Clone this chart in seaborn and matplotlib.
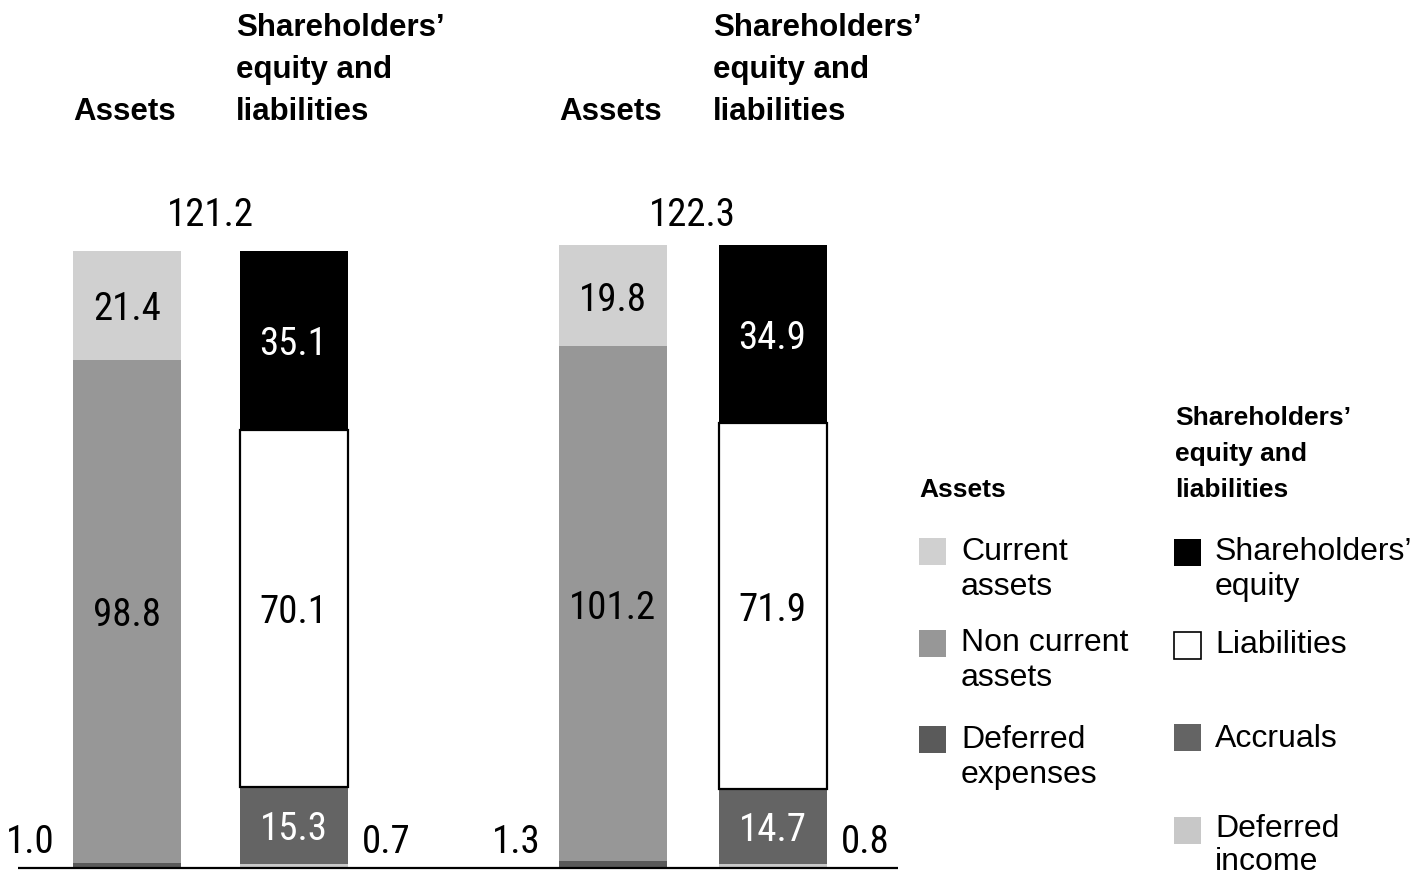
import matplotlib
matplotlib.use("Agg")
import matplotlib.pyplot as plt
from matplotlib import font_manager
from matplotlib.patches import Rectangle
import seaborn as sns

sns.set_theme(style="white")


def pick_font(*names):
    available = {f.name for f in font_manager.fontManager.ttflist}
    for name in names:
        if name in available:
            return name
    return "DejaVu Sans"


TEXT_FONT = pick_font("Liberation Sans", "Arimo", "DejaVu Sans")
NUM_FONT = pick_font("Liberation Sans Narrow", "Roboto Condensed", "Liberation Sans")
plt.rcParams["font.family"] = [TEXT_FONT, "DejaVu Sans"]

# ---- balance sheet figures (EUR bn), two reporting dates ----
current_assets = [21.4, 19.8]
non_current_assets = [98.8, 101.2]
deferred_expenses = [1.0, 1.3]
shareholders_equity = [35.1, 34.9]
liabilities = [70.1, 71.9]
accruals = [15.3, 14.7]
deferred_income = [0.7, 0.8]
balance_totals = [121.2, 122.3]

# ---- layout ----
W, H = 1428, 877
PX_PER_UNIT = 5.09
BASE_PX = 868
asset_x = [127, 612.5]
equity_x = [293.5, 772.5]
BAR_W = 108
TOTAL_Y = 129.0
SMALL_Y = 5.9
TEXT_DROP = 0.85  # nudge numeric labels so the digits sit visually centred

C_CURRENT = "#d0d0d0"
C_NONCURRENT = "#979797"
C_DEF_EXP = "#5a5a5a"
C_EQUITY = "#000000"
C_LIAB = "#ffffff"
C_ACCR = "#646464"
C_DEF_INC = "#c8c8c8"

fig = plt.figure(figsize=(W / 100, H / 100), dpi=100)
ax = fig.add_axes([0, 0, 1, 1])

asset_layers = [
    (deferred_expenses, C_DEF_EXP, "outside", None),
    (non_current_assets, C_NONCURRENT, "black", None),
    (current_assets, C_CURRENT, "black", None),
]
equity_layers = [
    (deferred_income, C_DEF_INC, "outside", None),
    (accruals, C_ACCR, "white", None),
    (liabilities, C_LIAB, "black", "black"),
    (shareholders_equity, C_EQUITY, "white", None),
]

num_kw = dict(family=[NUM_FONT, "DejaVu Sans"], fontsize=28)


def draw_stack(xpos, layers, i, side):
    bottom = 0.0
    for values, color, label_color, edge in layers:
        v = values[i]
        sns.barplot(
            x=[xpos], y=[v], native_scale=True, width=BAR_W, bottom=bottom,
            color=color, saturation=1, errorbar=None,
            edgecolor=edge if edge else color,
            linewidth=1.6 if edge else 0, ax=ax,
        )
        if label_color == "outside":
            if side == "left":
                ax.text(xpos - BAR_W / 2 - 18, SMALL_Y - TEXT_DROP, f"{v:.1f}",
                        ha="right", va="center", color="black", **num_kw)
            else:
                ax.text(xpos + BAR_W / 2 + 14, SMALL_Y - TEXT_DROP, f"{v:.1f}",
                        ha="left", va="center", color="black", **num_kw)
        else:
            ax.text(xpos, bottom + v / 2 - TEXT_DROP, f"{v:.1f}", ha="center",
                    va="center", color=label_color, **num_kw)
        bottom += v


for i in range(2):
    draw_stack(asset_x[i], asset_layers, i, "left")
    draw_stack(equity_x[i], equity_layers, i, "right")
    ax.text((asset_x[i] + equity_x[i]) / 2, TOTAL_Y - TEXT_DROP,
            f"{balance_totals[i]:.1f}", ha="center", va="center", color="black",
            **num_kw)

ax.plot([18, 898], [0, 0], color="black", lw=1.6, solid_capstyle="butt", zorder=5)
ax.set_xlim(0, W)
ax.set_ylim(-(H - BASE_PX) / PX_PER_UNIT, BASE_PX / PX_PER_UNIT)
ax.axis("off")

# ---- headings and legend in pixel space ----
ov = fig.add_axes([0, 0, 1, 1])
ov.set_xlim(0, W)
ov.set_ylim(H, 0)
ov.axis("off")
ov.patch.set_alpha(0)


def lines(x, baselines, texts, **kw):
    for b, t in zip(baselines, texts):
        ov.text(x, b, t, ha="left", va="baseline", color="black", **kw)


head_kw = dict(fontsize=22.5, fontweight="bold")
for ax_left, eq_left in [(73, 236), (559, 713)]:
    lines(ax_left, [120.5], ["Assets"], **head_kw)
    lines(eq_left, [35.5, 78, 120.5],
          ["Shareholders\u2019", "equity and", "liabilities"], **head_kw)

leg_head = dict(fontsize=19, fontweight="bold")
leg_kw = dict(fontsize=23)
SQ = 27

lines(919, [497], ["Assets"], **leg_head)
lines(1175, [425, 461, 497], ["Shareholders\u2019", "equity and", "liabilities"], **leg_head)

legend_items = [
    (919, 538, C_CURRENT, None, 961, [560, 595], ["Current", "assets"]),
    (919, 630, C_NONCURRENT, None, 961, [651, 686], ["Non current", "assets"]),
    (919, 726, C_DEF_EXP, None, 961, [748, 783], ["Deferred", "expenses"]),
    (1174, 539, C_EQUITY, None, 1215, [560, 595], ["Shareholders\u2019", "equity"]),
    (1174, 632, C_LIAB, "black", 1215, [653], ["Liabilities"]),
    (1174, 724, C_ACCR, None, 1215, [747], ["Accruals"]),
    (1174, 817, C_DEF_INC, None, 1215, [837, 870], ["Deferred", "income"]),
]
for sx, sy, color, edge, tx, bases, texts in legend_items:
    ov.add_patch(Rectangle((sx, sy), SQ, SQ, facecolor=color,
                           edgecolor=edge if edge else "none",
                           linewidth=1.2 if edge else 0))
    lines(tx, bases, texts, **leg_kw)

fig.savefig("out.png", dpi=100)
